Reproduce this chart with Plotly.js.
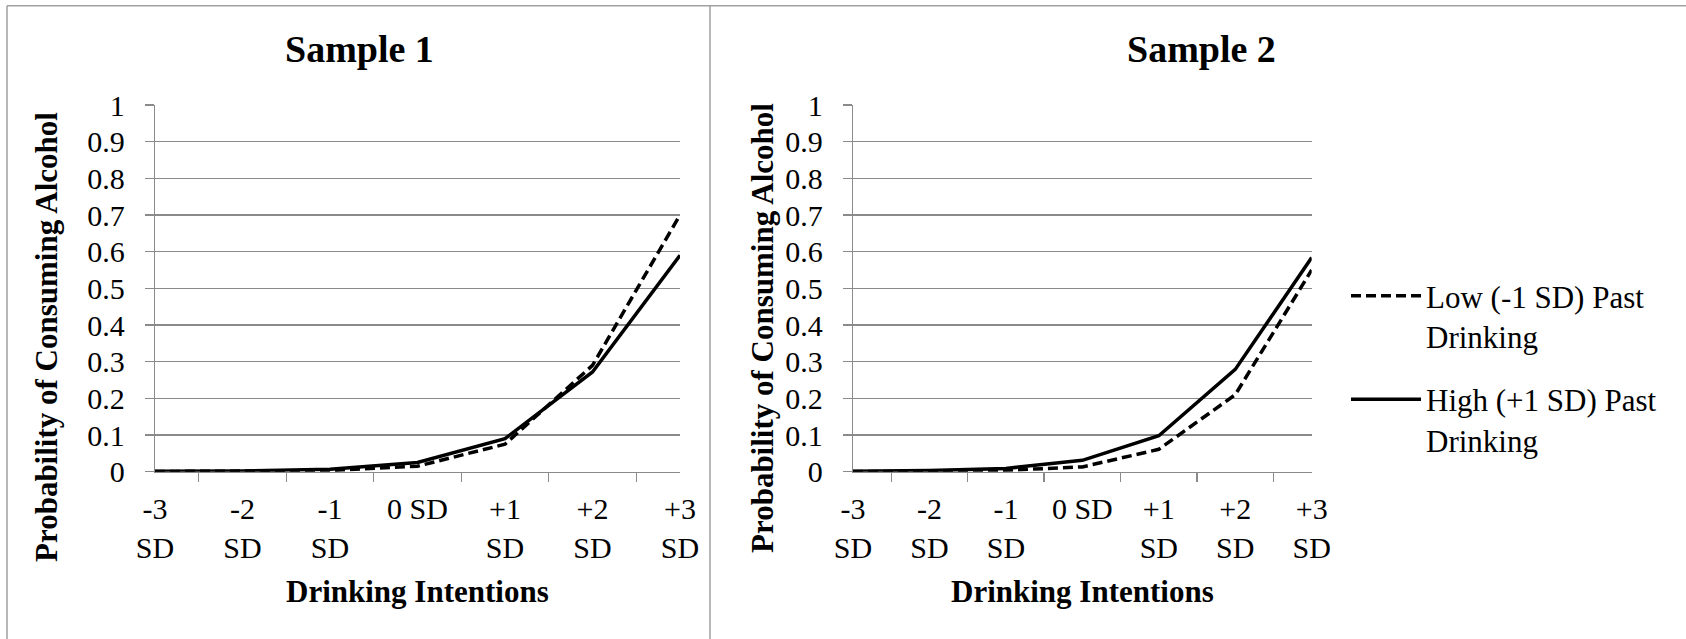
<!DOCTYPE html>
<html>
<head>
<meta charset="utf-8">
<script src="https://cdn.plot.ly/plotly-3.0.1.min.js"></script>
<style>html,body{margin:0;padding:0;background:#fff}#chart{width:1686px;height:639px}</style>
</head>
<body>
<div id="chart"></div>
<script>
// ---- data ----
const categories = ["-3<br>SD", "-2<br>SD", "-1<br>SD", "0 SD", "+1<br>SD", "+2<br>SD", "+3<br>SD"];
const seriesNames = ["Low (-1 SD) Past<br>Drinking", "High (+1 SD) Past<br>Drinking"];
const sample1Low  = [0.0005, 0.001, 0.003, 0.015, 0.075, 0.29, 0.70];
const sample1High = [0.001, 0.002, 0.007, 0.025, 0.09, 0.272, 0.59];
const sample2Low  = [0.0005, 0.001, 0.004, 0.013, 0.061, 0.21, 0.55];
const sample2High = [0.001, 0.003, 0.009, 0.031, 0.098, 0.279, 0.584];
const panelTitles = ["Sample 1", "Sample 2"];
const xTitle = "Drinking Intentions";
const yTitle = "Probability of Consuming Alcohol";

// ---- helpers ----
const W = 1686, H = 639;
const px = x => x / W;
const py = y => 1 - y / H;
const FONT = 'Liberation Serif';
const GRID = '#8a8a8a';
const DASH = '10px,5px';

function trace(y, name, dashed, xa, ya, showleg, grp) {
  return {
    type: 'scatter', mode: 'lines', x: categories, y: y, name: name,
    xaxis: xa, yaxis: ya, showlegend: showleg, legendgroup: grp, hoverinfo: 'skip',
    line: {color: '#000000', width: 3.5, dash: dashed ? DASH : 'solid'}
  };
}

const data = [
  trace(sample1Low,  seriesNames[0], true,  'x',  'y',  false, 'low'),
  trace(sample1High, seriesNames[1], false, 'x',  'y',  false, 'high'),
  trace(sample2Low,  seriesNames[0], true,  'x2', 'y2', true,  'low'),
  trace(sample2High, seriesNames[1], false, 'x2', 'y2', true,  'high')
];

function xaxis(domain, anchor) {
  return {
    domain: domain, anchor: anchor, type: 'category',
    showgrid: false, zeroline: false,
    showline: true, linecolor: GRID, linewidth: 1.3,
    ticks: 'outside', ticklen: 9, tickcolor: GRID, tickwidth: 1.3,
    tickson: 'boundaries', ticklabelstandoff: 10,
    tickfont: {family: FONT, size: 30, color: '#000'},
    fixedrange: true
  };
}
function yaxis(anchor) {
  return {
    domain: [py(471.7), py(105)], anchor: anchor,
    range: [0, 1], dtick: 0.1, tick0: 0,
    showgrid: true, gridcolor: GRID, gridwidth: 1.3, zeroline: false,
    showline: true, linecolor: GRID, linewidth: 1.3,
    ticks: 'outside', ticklen: 9, tickcolor: GRID, tickwidth: 1.3,
    ticklabelstandoff: 14,
    tickfont: {family: FONT, size: 30, color: '#000'},
    fixedrange: true
  };
}

const annFont = {family: FONT, size: 31, color: '#000'};
const annotations = [
  {text: '<b>' + panelTitles[0] + '</b>', x: px(359), y: py(49), font: {family: FONT, size: 38, color: '#000'}},
  {text: '<b>' + panelTitles[1] + '</b>', x: px(1201), y: py(49), font: {family: FONT, size: 38, color: '#000'}},
  {text: '<b>' + xTitle + '</b>', x: px(417.5), y: py(591), font: annFont},
  {text: '<b>' + xTitle + '</b>', x: px(1082), y: py(591), font: annFont},
  {text: '<b>' + yTitle + '</b>', x: px(47), y: py(337), textangle: -90, font: annFont},
  {text: '<b>' + yTitle + '</b>', x: px(762), y: py(328), textangle: -90, font: annFont}
].map(a => Object.assign({xref: 'paper', yref: 'paper', showarrow: false, xanchor: 'center', yanchor: 'middle'}, a));

const border = {type: 'line', xref: 'paper', yref: 'paper', line: {color: '#a0a0a0', width: 1.5}};
const shapes = [
  Object.assign({x0: px(7), x1: 1, y0: py(5.7), y1: py(5.7)}, border),
  Object.assign({x0: px(7), x1: px(7), y0: py(5.7), y1: 0}, border),
  Object.assign({x0: px(710), x1: px(710), y0: py(5.7), y1: 0}, border)
];

const layout = {
  width: W, height: H,
  margin: {l: 0, r: 0, t: 0, b: 0},
  paper_bgcolor: '#ffffff', plot_bgcolor: '#ffffff',
  font: {family: FONT, size: 30, color: '#000'},
  xaxis: xaxis([px(155), px(680)], 'y'),
  yaxis: yaxis('x'),
  xaxis2: xaxis([px(853), px(1311.7)], 'y2'),
  yaxis2: yaxis('x2'),
  showlegend: true,
  legend: {
    x: px(1346), y: py(269), xanchor: 'left', yanchor: 'top',
    bgcolor: 'rgba(0,0,0,0)', borderwidth: 0,
    font: {family: FONT, size: 31, color: '#000'},
    itemwidth: 70, valign: 'top', tracegroupgap: 20,
    itemclick: false, itemdoubleclick: false
  },
  annotations: annotations,
  shapes: shapes
};

Plotly.newPlot('chart', data, layout, {displayModeBar: false, staticPlot: true});
</script>
</body>
</html>
